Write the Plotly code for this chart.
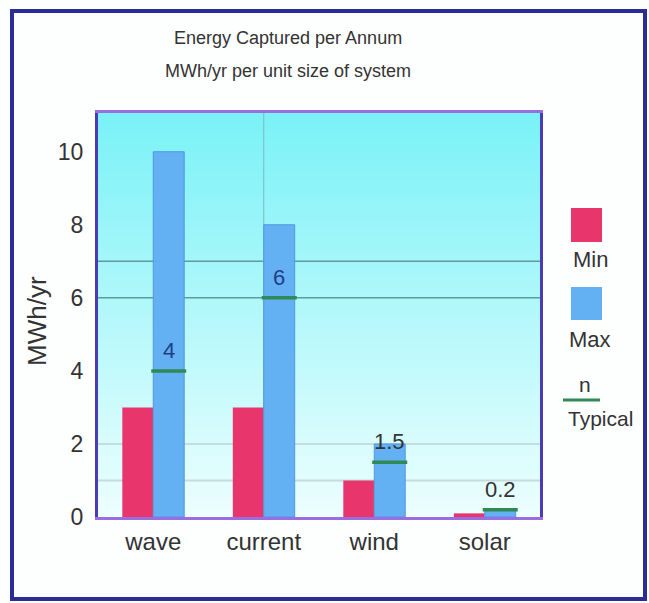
import plotly.graph_objects as go

# ---- data ----
categories = ["wave", "current", "wind", "solar"]
min_values = [3, 3, 1, 0.1]
max_values = [10, 8, 2, 0.2]
typical_values = [4, 6, 1.5, 0.2]
typical_labels = ["4", "6", "1.5", "0.2"]
y_ticks = [0, 2, 4, 6, 8, 10]
ref_lines_dark = [7, 6]
ref_lines_light = [2, 1]

# ---- styling ----
W, H = 649, 603
ML, MR, MT, MB = 98, 109, 113, 86
PW, PH = W - ML - MR, H - MT - MB
FONT = "Liberation Sans, Arial, sans-serif"
MIN_COLOR = "#e8356c"
MAX_COLOR = "#63b0f3"
TYP_COLOR = "#2f8a55"
TEXT = "#333333"
BAR_W = 0.28


def px_x(px):
    return (px - ML) / PW


def px_y(py):
    return (H - MB - py) / PH


x = list(range(len(categories)))

fig = go.Figure()
fig.add_trace(go.Bar(x=x, y=min_values, name="Min", width=BAR_W, offset=-BAR_W,
                     marker=dict(color=MIN_COLOR, line=dict(width=0))))
fig.add_trace(go.Bar(x=x, y=max_values, name="Max", width=BAR_W, offset=0,
                     marker=dict(color=MAX_COLOR, line=dict(color="#4f98e0", width=1))))
fig.add_trace(go.Scatter(x=[i + BAR_W / 2 for i in x], y=typical_values, mode="markers",
                         name="Typical",
                         marker=dict(symbol="line-ew", size=25,
                                     line=dict(color=TYP_COLOR, width=3.5))))

shapes = []
# vertical cyan gradient behind the bars
n_bands = 60
top_rgb = (122, 242, 247)
bot_rgb = (236, 254, 254)
for k in range(n_bands):
    t = k / (n_bands - 1)
    c = tuple(round(top_rgb[j] + (bot_rgb[j] - top_rgb[j]) * t) for j in range(3))
    shapes.append(dict(type="rect", xref="paper", yref="paper", layer="below",
                       x0=0, x1=1, y0=1 - (k + 1) / n_bands, y1=1 - k / n_bands + 0.002,
                       fillcolor="rgb(%d,%d,%d)" % c, line=dict(width=0)))
for v in ref_lines_dark:
    shapes.append(dict(type="line", xref="paper", yref="y", layer="below",
                       x0=0, x1=1, y0=v, y1=v, line=dict(color="#5e9c9c", width=1.5)))
for v in ref_lines_light:
    shapes.append(dict(type="line", xref="paper", yref="y", layer="below",
                       x0=0, x1=1, y0=v, y1=v, line=dict(color="#c6dcdc", width=2)))
shapes.append(dict(type="line", xref="x", yref="paper", layer="below",
                   x0=1, x1=1, y0=0, y1=1, line=dict(color="#7fb8c0", width=1)))

# outer frame
shapes.append(dict(type="rect", xref="paper", yref="paper",
                   x0=px_x(12), x1=px_x(645), y0=px_y(599), y1=px_y(11),
                   line=dict(color="#2c2c96", width=4)))

# custom legend on the right
shapes.append(dict(type="rect", xref="paper", yref="paper",
                   x0=px_x(571), x1=px_x(602), y0=px_y(242), y1=px_y(208),
                   fillcolor=MIN_COLOR, line=dict(width=0)))
shapes.append(dict(type="rect", xref="paper", yref="paper",
                   x0=px_x(571), x1=px_x(602), y0=px_y(320), y1=px_y(287),
                   fillcolor=MAX_COLOR, line=dict(width=0)))
shapes.append(dict(type="line", xref="paper", yref="paper",
                   x0=px_x(563), x1=px_x(600), y0=px_y(400), y1=px_y(400),
                   line=dict(color=TYP_COLOR, width=3)))

annotations = []


def label(px, py, text, size, angle=0, color=TEXT):
    annotations.append(dict(xref="paper", yref="paper", x=px_x(px), y=px_y(py),
                            text=text, showarrow=False, xanchor="center", yanchor="middle",
                            textangle=angle, font=dict(family=FONT, size=size, color=color)))


label(288, 38, "Energy Captured per Annum", 18)
label(288, 71, "MWh/yr per unit size of system", 18)
label(37, 321, "MWh/yr", 26, angle=-90)
label(590, 259, "Min", 22)
label(590, 339, "Max", 22)
label(585, 384, "n", 21)
label(600, 418, "Typical", 21)

for i, (tv, mv, txt) in enumerate(zip(typical_values, max_values, typical_labels)):
    inside = tv < mv - 0.6
    annotations.append(dict(x=i + BAR_W / 2, y=tv, xref="x", yref="y", text=txt,
                            showarrow=False, yanchor="bottom", yshift=6,
                            font=dict(family=FONT, size=22,
                                      color="#1f3f86" if inside else TEXT)))

fig.update_layout(
    width=W, height=H,
    margin=dict(l=ML, r=MR, t=MT, b=MB, pad=0),
    paper_bgcolor="#fdfefe",
    plot_bgcolor="rgb(236,254,254)",
    showlegend=False,
    barmode="overlay",
    shapes=shapes,
    annotations=annotations,
    xaxis=dict(range=[-0.5, len(categories) - 0.5], tickvals=x, ticktext=categories,
               showgrid=False, zeroline=False, showline=True, linecolor="#9a6ee0",
               linewidth=3, mirror=True, ticks="outside", ticklen=1,
               tickcolor="rgba(0,0,0,0)",
               tickfont=dict(family=FONT, size=24, color=TEXT)),
    yaxis=dict(range=[0, 11.06], tickvals=y_ticks, showgrid=False, zeroline=False,
               showline=True, linecolor="#4a3cb8", linewidth=3, mirror=True,
               ticks="outside", ticklen=7, tickcolor="rgba(0,0,0,0)",
               tickfont=dict(family=FONT, size=23, color=TEXT)),
)

fig.write_html("out.html")
